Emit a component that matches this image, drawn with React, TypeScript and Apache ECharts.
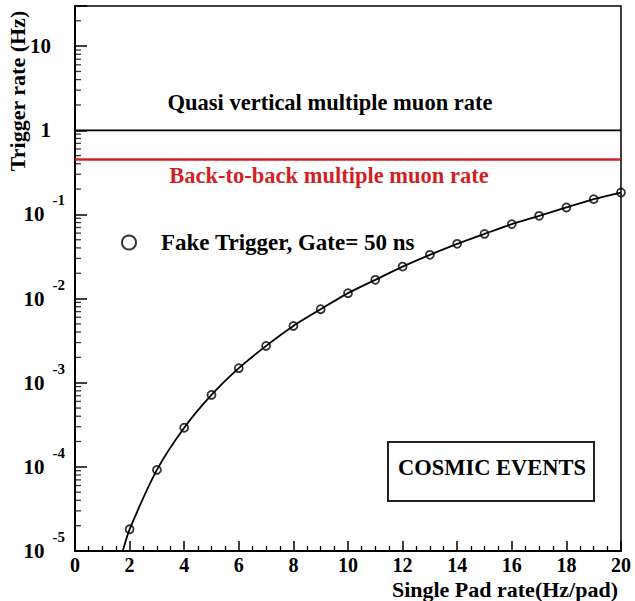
import React, { useEffect, useRef } from "react";
import * as echarts from "echarts";

// ---- data ----
const padRate = [2, 3, 4, 5, 6, 7, 8, 9, 10, 11, 12, 13, 14, 15, 16, 17, 18, 19, 20];
const fakeTriggerRate = [
  1.81e-5, 9.2e-5, 2.92e-4, 7.16e-4, 1.49e-3, 2.74e-3, 4.73e-3, 7.48e-3, 1.16e-2, 1.67e-2,
  2.4e-2, 3.31e-2, 4.47e-2, 5.87e-2, 7.67e-2, 9.62e-2, 0.121, 0.152, 0.182,
];
// where the fitted curve leaves the bottom of the frame
const curveStart = [1.75, 1e-5];
const quasiVerticalRate = 1;
const backToBackRate = 0.45;
const xRange = [0, 20];
const yRange = [1e-5, 30];

const FONT = "'Liberation Serif', 'Times New Roman', serif";
const RED = "#d21f26";

// minor log ticks 2..9 x 10^k
const minorYTicks: number[] = [];
for (let k = -5; k <= 1; k++) {
  for (let m = 2; m <= 9; m++) {
    const v = m * Math.pow(10, k);
    if (v <= yRange[1]) minorYTicks.push(v);
  }
}

const textStyle = (text: string, fill = "#000", size = 22.5) => ({
  text,
  fontFamily: FONT,
  fontWeight: "bold",
  fontSize: size,
  fill,
  align: "center",
  verticalAlign: "middle",
});

export default function App() {
  const ref = useRef<HTMLDivElement>(null);
  useEffect(() => {
    if (!ref.current) return;
    const chart = echarts.init(ref.current, null, { renderer: "svg" });
    const curve = [curveStart, ...padRate.map((x, i) => [x, fakeTriggerRate[i]])];
    const points = padRate.map((x, i) => [x, fakeTriggerRate[i]]);
    chart.setOption({
      animation: false,
      backgroundColor: "#fff",
      grid: {
        left: 75,
        right: 14,
        top: 6,
        bottom: 50,
        containLabel: false,
        outerBoundsMode: "none",
        show: true,
        borderColor: "#000",
        borderWidth: 1.5,
        backgroundColor: "transparent",
      },
      legend: {
        data: ["Fake Trigger, Gate= 50 ns"],
        left: 116,
        top: 226,
        icon: "circle",
        itemWidth: 14,
        itemHeight: 14,
        itemStyle: { color: "transparent", borderColor: "#000", borderWidth: 2 },
        textStyle: {
          fontFamily: FONT,
          fontWeight: "bold",
          fontSize: 23,
          color: "#000",
          padding: [0, 0, 0, 20],
        },
      },
      xAxis: {
        type: "value",
        min: xRange[0],
        max: xRange[1],
        interval: 2,
        axisLine: { show: true, lineStyle: { color: "#000", width: 2 } },
        axisTick: { show: true, inside: true, length: 10, lineStyle: { color: "#000", width: 1.5 } },
        minorTick: { show: true, splitNumber: 4, length: 5, lineStyle: { color: "#000", width: 1.3 } },
        splitLine: { show: false },
        axisLabel: {
          fontFamily: FONT,
          fontWeight: "bold",
          fontSize: 20,
          color: "#000",
          margin: 4,
        },
      },
      yAxis: {
        type: "log",
        logBase: 10,
        min: yRange[0],
        max: yRange[1],
        axisLine: { show: true, lineStyle: { color: "#000", width: 2 } },
        axisTick: { show: true, inside: true, length: 12, lineStyle: { color: "#000", width: 1.5 } },
        splitLine: { show: false },
        axisLabel: {
          margin: 10,
          color: "#000",
          formatter: (v: number) => {
            const l = Math.log10(v);
            const e = Math.round(l);
            if (Math.abs(l - e) > 1e-6) return "";
            if (e === 1) return "{b|10}{gap|}";
            if (e === 0) return "{b|1}{gap|}";
            return `{b|10}{sup|${e}}`;
          },
          rich: {
            b: { fontFamily: FONT, fontWeight: "bold", fontSize: 21, color: "#000", verticalAlign: "middle" },
            sup: {
              fontFamily: FONT,
              fontWeight: "bold",
              fontSize: 15,
              color: "#000",
              verticalAlign: "middle",
              padding: [0, 0, 28, 8],
            },
            gap: { width: 14 },
          },
        },
      },
      graphic: [
        {
          type: "text",
          x: 17,
          y: 91,
          rotation: Math.PI / 2,
          style: textStyle("Trigger rate (Hz)", "#000", 22),
        },
        {
          type: "text",
          x: 618,
          y: 589,
          style: { ...textStyle("Single Pad rate(Hz/pad)", "#000", 22), align: "right" },
        },
        { type: "text", x: 330, y: 102, style: textStyle("Quasi vertical multiple muon rate") },
        { type: "text", x: 329, y: 175, style: textStyle("Back-to-back multiple muon rate", RED) },
        {
          type: "rect",
          shape: { x: 388, y: 442, width: 206, height: 59 },
          style: { fill: "#fff", stroke: "#222", lineWidth: 2 },
        },
        { type: "text", x: 492, y: 467, style: textStyle("COSMIC EVENTS") },
      ],
      series: [
        {
          name: "Quasi vertical multiple muon rate",
          type: "line",
          data: [
            [xRange[0], quasiVerticalRate],
            [xRange[1], quasiVerticalRate],
          ],
          symbol: "none",
          lineStyle: { color: "#000", width: 1.8 },
          silent: true,
        },
        {
          name: "Back-to-back multiple muon rate",
          type: "line",
          data: [
            [xRange[0], backToBackRate],
            [xRange[1], backToBackRate],
          ],
          symbol: "none",
          lineStyle: { color: RED, width: 2.5 },
          silent: true,
        },
        {
          name: "fit",
          type: "line",
          data: curve,
          symbol: "none",
          smooth: 0.25,
          lineStyle: { color: "#000", width: 1.8 },
          silent: true,
        },
        {
          name: "Fake Trigger, Gate= 50 ns",
          type: "scatter",
          data: points,
          symbol: "circle",
          symbolSize: 8,
          itemStyle: { color: "transparent", borderColor: "#000", borderWidth: 1.8 },
        },
        {
          name: "minorYTicks",
          type: "scatter",
          data: minorYTicks.map((v) => [xRange[0], v]),
          silent: true,
          clip: false,
          symbol: "rect",
          symbolSize: [6, 1.3],
          symbolOffset: [3, 0],
          itemStyle: { color: "#000" },
        },
      ],
    });
    return () => chart.dispose();
  }, []);
  return (
    <div
      ref={ref}
      style={{ position: "fixed", left: 0, top: 0, width: 635, height: 601, background: "#fff" }}
    />
  );
}
